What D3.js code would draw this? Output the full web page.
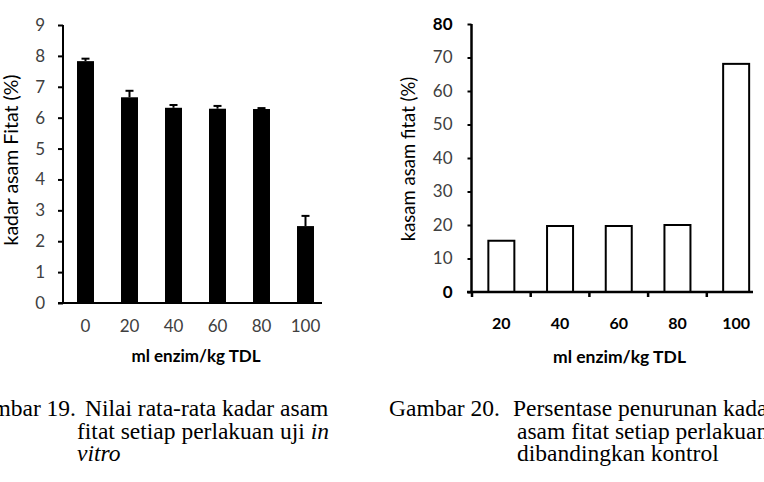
<!DOCTYPE html>
<html><head><meta charset="utf-8">
<script src="https://cdn.jsdelivr.net/npm/d3@7"></script>
<style>
html,body{margin:0;padding:0;background:#fff;overflow:hidden;}
svg{display:block;}
</style></head>
<body>
<script>
// ---- data ----
const leftCats = ["0", "20", "40", "60", "80", "100"];
const leftMeans = [7.83, 6.66, 6.32, 6.29, 6.28, 2.49];
const leftErr = [0.08, 0.21, 0.09, 0.09, 0.03, 0.33];
const leftTicks = [0, 1, 2, 3, 4, 5, 6, 7, 8, 9];

const rightCats = ["20", "40", "60", "80", "100"];
const rightVals = [15.3, 19.7, 19.7, 20.0, 68.1];
const rightTicks = [0, 10, 20, 30, 40, 50, 60, 70, 80];

const xTitle = "ml enzim/kg TDL";
const leftYTitle = "kadar asam Fitat (%)";
const rightYTitle = "kasam asam fitat (%)";

const W = 764, H = 482;
const svg = d3.select("body").append("svg").attr("width", W).attr("height", H);
const SANS = "Lato, 'Open Sans', sans-serif";
const SERIF = "'Liberation Serif', 'Times New Roman', serif";

// ---------- Left chart ----------
{
  const x = d3.scaleBand().domain(leftCats).range([63.5, 327.5]).paddingInner(0.614).paddingOuter(0.307);
  const y = d3.scaleLinear().domain([0, 9]).range([303, 25]);
  const g = svg.append("g");

  g.selectAll("rect.bar").data(leftCats).join("rect")
    .attr("x", d => x(d)).attr("width", x.bandwidth())
    .attr("y", (d, i) => y(leftMeans[i])).attr("height", (d, i) => y(0) - y(leftMeans[i]))
    .attr("fill", "#000");

  // error bars
  const eb = g.selectAll("g.err").data(leftCats).join("g");
  eb.append("line")
    .attr("x1", d => x(d) + x.bandwidth() / 2).attr("x2", d => x(d) + x.bandwidth() / 2)
    .attr("y1", (d, i) => y(leftMeans[i])).attr("y2", (d, i) => y(leftMeans[i] + leftErr[i]))
    .attr("stroke", "#000").attr("stroke-width", 2);
  eb.append("line")
    .attr("x1", d => x(d) + x.bandwidth() / 2 - 4).attr("x2", d => x(d) + x.bandwidth() / 2 + 4)
    .attr("y1", (d, i) => y(leftMeans[i] + leftErr[i])).attr("y2", (d, i) => y(leftMeans[i] + leftErr[i]))
    .attr("stroke", "#000").attr("stroke-width", 2);

  // y axis
  const ya = g.append("g").attr("transform", "translate(63,0)")
    .call(d3.axisLeft(y).tickValues(leftTicks).tickSize(5).tickPadding(13).tickFormat(d3.format("d")));
  ya.select(".domain").attr("stroke", "#000").attr("stroke-width", 2).attr("d", `M0,${y(9)}V${y(0)}`);
  ya.selectAll(".tick line").attr("stroke", "#000").attr("stroke-width", 2);
  ya.selectAll(".tick text").attr("font-family", SANS).attr("font-size", 17).attr("fill", "#404040");

  // x axis
  const xa = g.append("g").attr("transform", `translate(0,${y(0)})`)
    .call(d3.axisBottom(x).tickSize(0).tickPadding(17));
  xa.select(".domain").attr("stroke", "#000").attr("stroke-width", 2).attr("d", "M58,0H322");
  xa.selectAll(".tick text").attr("font-family", SANS).attr("font-size", 17).attr("fill", "#404040");

  g.append("text").attr("x", 196).attr("y", 362).attr("text-anchor", "middle")
    .attr("font-family", SANS).attr("font-size", 17).attr("font-weight", "bold").attr("fill", "#000")
    .text(xTitle);
  g.append("text").attr("transform", "translate(18,160) rotate(-90)").attr("text-anchor", "middle")
    .attr("font-family", SANS).attr("font-size", 19.5).attr("fill", "#000")
    .text(leftYTitle);
}

// ---------- Right chart ----------
{
  const x = d3.scaleBand().domain(rightCats).range([472, 765.5]).paddingInner(0.557).paddingOuter(0.2785);
  const y = d3.scaleLinear().domain([0, 80]).range([292, 24]);
  const g = svg.append("g");

  g.selectAll("rect.bar").data(rightCats).join("rect")
    .attr("x", d => x(d)).attr("width", x.bandwidth())
    .attr("y", (d, i) => y(rightVals[i])).attr("height", (d, i) => y(0) - y(rightVals[i]))
    .attr("fill", "#fff").attr("stroke", "#000").attr("stroke-width", 2);

  const ya = g.append("g").attr("transform", "translate(471.5,0)")
    .call(d3.axisLeft(y).tickValues(rightTicks).tickSize(4).tickPadding(15).tickFormat(d3.format("d")));
  ya.select(".domain").attr("stroke", "#000").attr("stroke-width", 2.5).attr("d", `M0,${y(80)}V${y(0)}`);
  ya.selectAll(".tick line").attr("stroke", "#000").attr("stroke-width", 2);
  ya.selectAll(".tick text").attr("font-family", SANS).attr("font-size", 17)
    .attr("fill", d => (d === 0 || d === 80) ? "#000" : "#404040")
    .attr("font-weight", d => (d === 0 || d === 80) ? "bold" : "normal");

  // x axis with category-boundary ticks
  const xa = g.append("g").attr("transform", `translate(0,${y(0)})`)
    .call(d3.axisBottom(x).tickSize(0).tickPadding(26));
  xa.select(".domain").attr("stroke", "#000").attr("stroke-width", 2.5).attr("d", "M467,0H753");
  xa.selectAll(".tick text").attr("font-family", SANS).attr("font-size", 16).attr("font-weight", "bold").attr("fill", "#000");
  xa.selectAll("line.bnd").data(rightCats).join("line").attr("class", "bnd")
    .attr("x1", d => x(d) - x.step() * x.paddingOuter()).attr("x2", d => x(d) - x.step() * x.paddingOuter())
    .attr("y1", 0).attr("y2", 5).attr("stroke", "#000").attr("stroke-width", 2.5);

  g.append("text").attr("x", 619.5).attr("y", 363).attr("text-anchor", "middle")
    .attr("font-family", SANS).attr("font-size", 17.5).attr("font-weight", "bold").attr("fill", "#000")
    .text(xTitle);
  g.append("text").attr("transform", "translate(415,159) rotate(-90)").attr("text-anchor", "middle")
    .attr("font-family", SANS).attr("font-size", 18.5).attr("fill", "#000")
    .text(rightYTitle);
}

// ---------- Captions ----------
const cap = svg.append("g").attr("font-family", SERIF).attr("font-size", 23.5).attr("fill", "#000");
cap.append("text").attr("x", 76).attr("y", 416).attr("text-anchor", "end").text("Gambar 19.");
cap.append("text").attr("x", 85).attr("y", 416).text("Nilai rata-rata kadar asam");
const l2 = cap.append("text").attr("x", 77).attr("y", 439);
l2.append("tspan").text("fitat setiap perlakuan uji ");
l2.append("tspan").attr("font-style", "italic").text("in");
cap.append("text").attr("x", 77).attr("y", 461).attr("font-style", "italic").text("vitro");

cap.append("text").attr("x", 389).attr("y", 416).text("Gambar 20.");
cap.append("text").attr("x", 513).attr("y", 416).text("Persentase penurunan kadar");
cap.append("text").attr("x", 517).attr("y", 439).text("asam fitat setiap perlakuan");
cap.append("text").attr("x", 517).attr("y", 461).text("dibandingkan kontrol");
</script>
</body></html>
